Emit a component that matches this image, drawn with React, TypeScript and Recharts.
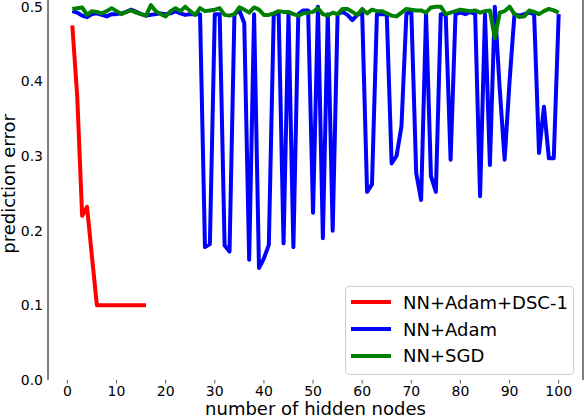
import { LineChart, Line, XAxis, YAxis, Legend, ReferenceLine } from "recharts";

const hiddenNodes = Array.from({ length: 100 }, (_, i) => i + 1);

const dscError = [
  0.475, 0.38, 0.22, 0.232, 0.165, 0.1, 0.1, 0.1, 0.1, 0.1, 0.1, 0.1, 0.1, 0.1,
  0.1, 0.1,
];

const adamError = [
  0.494, 0.492, 0.488, 0.486, 0.49, 0.491, 0.489, 0.487, 0.49, 0.49,
  0.491, 0.493, 0.496, 0.493, 0.49, 0.488, 0.489, 0.49, 0.491, 0.49,
  0.491, 0.494, 0.491, 0.489, 0.49, 0.49, 0.49, 0.178, 0.182, 0.49,
  0.49, 0.18, 0.172, 0.49, 0.495, 0.478, 0.161, 0.49, 0.15, 0.163,
  0.181, 0.49, 0.492, 0.183, 0.49, 0.178, 0.49, 0.495, 0.495, 0.224,
  0.5, 0.19, 0.49, 0.2, 0.49, 0.493, 0.489, 0.482, 0.489, 0.492,
  0.252, 0.262, 0.49, 0.49, 0.49, 0.29, 0.3, 0.34, 0.49, 0.495,
  0.277, 0.241, 0.49, 0.273, 0.252, 0.49, 0.49, 0.295, 0.49, 0.492,
  0.49, 0.493, 0.49, 0.246, 0.49, 0.288, 0.5, 0.39, 0.295, 0.4,
  0.49, 0.488, 0.49, 0.492, 0.49, 0.304, 0.366, 0.297, 0.297, 0.49,
];

const sgdError = [
  0.497, 0.498, 0.499, 0.489, 0.494, 0.493, 0.491, 0.494, 0.498, 0.494,
  0.49, 0.493, 0.495, 0.492, 0.49, 0.488, 0.502, 0.494, 0.49, 0.487,
  0.494, 0.498, 0.494, 0.5, 0.494, 0.489, 0.498, 0.494, 0.495, 0.496,
  0.498, 0.489, 0.488, 0.49, 0.499, 0.496, 0.492, 0.499, 0.496, 0.489,
  0.489, 0.491, 0.494, 0.493, 0.493, 0.49, 0.488, 0.491, 0.492, 0.493,
  0.498, 0.49, 0.488, 0.492, 0.49, 0.497, 0.497, 0.493, 0.489, 0.497,
  0.491, 0.496, 0.494, 0.494, 0.491, 0.488, 0.487, 0.492, 0.497, 0.496,
  0.495, 0.495, 0.492, 0.499, 0.5, 0.5, 0.49, 0.492, 0.494, 0.496,
  0.495, 0.494, 0.495, 0.492, 0.494, 0.495, 0.458, 0.492, 0.494, 0.5,
  0.49, 0.486, 0.487, 0.495, 0.493, 0.49, 0.494, 0.497, 0.495, 0.492,
];

const xTicks = [0, 10, 20, 30, 40, 50, 60, 70, 80, 90, 100];
const yTicks = [0, 0.1, 0.2, 0.3, 0.4, 0.5];

const series = [
  { key: "dsc", name: "NN+Adam+DSC-1", color: "#ff0000" },
  { key: "adam", name: "NN+Adam", color: "#0000ff" },
  { key: "sgd", name: "NN+SGD", color: "#008000" },
];

const data = hiddenNodes.map((x, i) => ({
  x,
  dsc: i < dscError.length ? dscError[i] : null,
  adam: adamError[i],
  sgd: sgdError[i],
}));

const X_MIN = -3.95;
const X_MAX = 104.95;

function LegendBox() {
  return (
    <div
      style={{
        width: 227,
        height: 85,
        border: "1px solid #d0d0d0",
        borderRadius: 4,
        background: "rgba(255,255,255,0.8)",
        paddingTop: 2,
        boxSizing: "content-box",
      }}
    >
      {series.map((s) => (
        <div
          key={s.key}
          style={{ display: "flex", alignItems: "center", height: 26.7 }}
        >
          <div
            style={{
              width: 40,
              height: 4,
              background: s.color,
              marginLeft: 5,
              marginRight: 12,
            }}
          />
          <span style={{ fontSize: 18, color: "#000" }}>{s.name}</span>
        </div>
      ))}
    </div>
  );
}

export default function App() {
  return (
    <div
      style={{
        position: "absolute",
        left: 0,
        top: 0,
        width: 584,
        height: 416,
        overflow: "hidden",
        background: "#fff",
        fontFamily: "'DejaVu Sans', sans-serif",
      }}
    >
      <div style={{ position: "absolute", left: 0, top: -12 }}>
        <LineChart
          width={584}
          height={428}
          data={data}
          margin={{ top: 0, right: 1, left: 0, bottom: 0 }}
        >
          <XAxis
            dataKey="x"
            type="number"
            domain={[X_MIN, X_MAX]}
            ticks={xTicks}
            allowDataOverflow
            axisLine={false}
            tickLine={{ stroke: "#555" }}
            tickSize={3.5}
            tickMargin={3}
            height={36}
            tick={{ fontSize: 14, fill: "#000" }}
            label={{
              value: "number of hidden nodes",
              position: "insideBottom",
              offset: 1,
              style: { fontSize: 18, fill: "#000" },
            }}
          />
          <YAxis
            type="number"
            domain={[0, 0.525]}
            ticks={yTicks}
            allowDataOverflow
            width={48}
            axisLine={{ stroke: "#000" }}
            tickLine={false}
            tickSize={3}
            tickMargin={2}
            tickFormatter={(v: number) => v.toFixed(1)}
            tick={{ fontSize: 14, fill: "#000" }}
            label={{
              value: "prediction error",
              angle: -90,
              position: "insideLeft",
              offset: 9,
              style: { fontSize: 18, fill: "#000", textAnchor: "middle" },
            }}
          />
          <ReferenceLine x={X_MAX} stroke="#000" strokeWidth={1} />
          {series.map((s) => (
            <Line
              key={s.key}
              dataKey={s.key}
              name={s.name}
              stroke={s.color}
              strokeWidth={4}
              strokeLinejoin="round"
              dot={false}
              activeDot={false}
              connectNulls={false}
              isAnimationActive={false}
            />
          ))}
          <Legend
            layout="horizontal"
            verticalAlign="middle"
            align="center"
            content={() => <LegendBox />}
            wrapperStyle={{
              position: "absolute",
              left: 345,
              top: 298,
              width: 229,
            }}
          />
        </LineChart>
      </div>
    </div>
  );
}
